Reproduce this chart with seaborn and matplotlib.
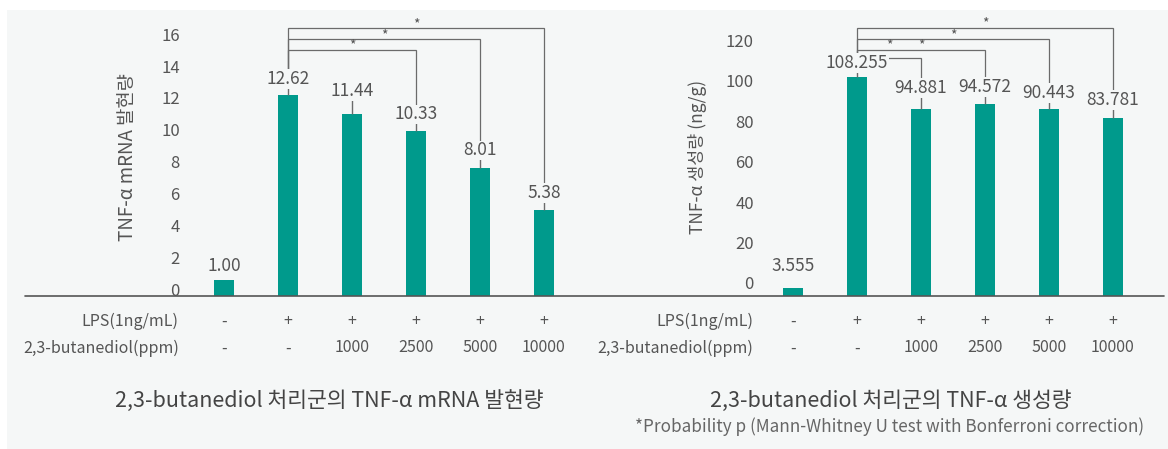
import numpy as np
import pandas as pd
import matplotlib
matplotlib.use("Agg")
import matplotlib.pyplot as plt
import matplotlib.transforms as mtransforms
from matplotlib.patches import Rectangle
from matplotlib.lines import Line2D
import seaborn as sns

# ---- data ----
groups = ["control", "LPS", "1000", "2500", "5000", "10000"]
lps_row = ["-", "+", "+", "+", "+", "+"]
ppm_row = ["-", "-", "1000", "2500", "5000", "10000"]

mrna_values = [1.00, 12.62, 11.44, 10.33, 8.01, 5.38]
mrna_labels = ["1.00", "12.62", "11.44", "10.33", "8.01", "5.38"]
mrna_err = [0.44, 0.56, 1.00, 0.63, 0.69, 0.63]
mrna_ticks = [0, 2, 4, 6, 8, 10, 12, 14, 16]
mrna_pairs = [(1, 3), (1, 4), (1, 5)]

prod_values = [4.1, 108.4, 92.6, 95.0, 92.6, 88.1]
prod_labels = ["3.555", "108.255", "94.881", "94.572", "90.443", "83.781"]
prod_err = [7.4, 3.5, 6.9, 5.0, 4.5, 5.4]
prod_ticks = [0, 20, 40, 60, 80, 100, 120]
prod_pairs = [(1, 2), (1, 3), (1, 4), (1, 5)]

title_left = "2,3-butanediol 처리군의 TNF-α mRNA 발현량"
title_right = "2,3-butanediol 처리군의 TNF-α 생성량"
footnote = "*Probability p (Mann-Whitney U test with Bonferroni correction)"

# ---- style ----
W, H = 1168, 449
BG = "#f5f7f7"
TEAL = "#009a8c"
TXT = "#555555"
LINE = "#6b6b6b"

sns.set_theme(style="white")
plt.rcParams['font.family'] = ['Noto Sans CJK KR', 'DejaVu Sans']

fig = plt.figure(figsize=(W / 100, H / 100), dpi=100)
fig.patch.set_facecolor("white")
fig.patches.append(Rectangle((7 / W, 0), 1, (H - 10) / H, transform=fig.transFigure,
                             facecolor=BG, edgecolor="none", zorder=-10))
# one continuous baseline under both panels
fig.add_artist(Line2D([25 / W, 1164 / W], [1 - 296 / H, 1 - 296 / H],
                      color="#555555", lw=1.2, zorder=10))


def px_box(x0, x1, ytop, ybot):
    return [x0 / W, 1 - ybot / H, (x1 - x0) / W, (ybot - ytop) / H]


def draw(ax, values, labels, err, ticks, ymax, xlim, spine_x, pairs, levels,
         star_levels, ylabel, ylab_x, ylab_size, tick_shift):
    df = pd.DataFrame({"group": groups, "value": values})
    sns.barplot(data=df, x="group", y="value", ax=ax, color=TEAL, width=0.31,
                saturation=1, errorbar=None, linewidth=0, zorder=2)
    x = np.arange(len(values))
    values = np.array(values)
    err = np.array(err)
    tops = values + err

    ax.errorbar(x[1:], values[1:], yerr=[np.zeros(len(x) - 1), err[1:]], fmt="none",
                ecolor=LINE, elinewidth=1, capsize=0, zorder=3)

    for k, (a, b) in enumerate(pairs):
        lv = levels[k]
        ax.plot([a, a, b, b], [tops[a], lv, lv, tops[b]], color=LINE, lw=0.9,
                zorder=3, solid_joinstyle="miter")
        ax.annotate("*", ((a + b) / 2, star_levels[k]), xytext=(0, 3),
                    textcoords="offset points", ha="center", va="center",
                    fontsize=10, color=TXT, zorder=6)

    for i in range(len(values)):
        ax.annotate(labels[i], (x[i], tops[i]), xytext=(0, 5), textcoords="offset points",
                    ha="center", va="center", fontsize=12.5, color=TXT, zorder=5,
                    bbox=dict(boxstyle="square,pad=0.05", fc=BG, ec="none"))

    ax.set_facecolor("none")
    ax.set_xlim(*xlim)
    ax.set_ylim(0, ymax)
    ax.set_yticks(ticks)
    ax.spines["left"].set_position(("data", spine_x))
    for s in ["left", "right", "top", "bottom"]:
        ax.spines[s].set_visible(False)
    ax.tick_params(axis="y", length=0, pad=3, labelsize=12, labelcolor=TXT)
    shift = mtransforms.ScaledTranslation(0, tick_shift / 72, fig.dpi_scale_trans)
    for lbl in ax.get_yticklabels():
        lbl.set_transform(lbl.get_transform() + shift)

    ax.set_xticks(x, labels=[f"{a}\n{b}" for a, b in zip(lps_row, ppm_row)])
    ax.tick_params(axis="x", length=0, pad=12, labelsize=11.5, labelcolor=TXT)
    for lbl in ax.get_xticklabels():
        lbl.set_linespacing(1.75)
    ax.annotate("LPS(1ng/mL)\n2,3-butanediol(ppm)", (spine_x - 0.08, 0),
                xycoords=ax.get_xaxis_transform(), xytext=(0, -12),
                textcoords="offset points", ha="right", va="top", fontsize=11.5,
                color=TXT, linespacing=1.75, multialignment="right")

    ax.set_xlabel("")
    ax.set_ylabel(ylabel, fontsize=ylab_size, color=TXT)
    ax.yaxis.set_label_coords(ylab_x, 0.495)


ax1 = fig.add_axes(px_box(25, 600, 15, 296))
ax2 = fig.add_axes(px_box(600, 1164, 15, 296))

draw(ax1, mrna_values, mrna_labels, mrna_err, mrna_ticks, 17.64, (-3.109, 5.875), -0.625,
     mrna_pairs, [15.45, 16.13, 16.82], [15.45, 16.13, 16.82],
     "TNF-α mRNA 발현량", 0.1965, 13.5, 5)
draw(ax2, prod_values, prod_labels, prod_err, prod_ticks, 139.1, (-3.016, 5.797), -0.547,
     prod_pairs, [117.8, 121.8, 127.2, 132.7], [121.8, 121.8, 127.2, 132.7],
     "TNF-α 생성량 (ng/g)", 0.19, 12.5, 9.5)

fig.text(329 / W, 1 - 401 / H, title_left, ha="center", va="center", fontsize=15.5, color="#444444")
fig.text(891 / W, 1 - 401 / H, title_right, ha="center", va="center", fontsize=15.5, color="#444444")
fig.text(890 / W, 1 - 427 / H, footnote, ha="center", va="center", fontsize=12.3, color="#666666")

fig.savefig("out.png", dpi=100, facecolor=fig.get_facecolor())
